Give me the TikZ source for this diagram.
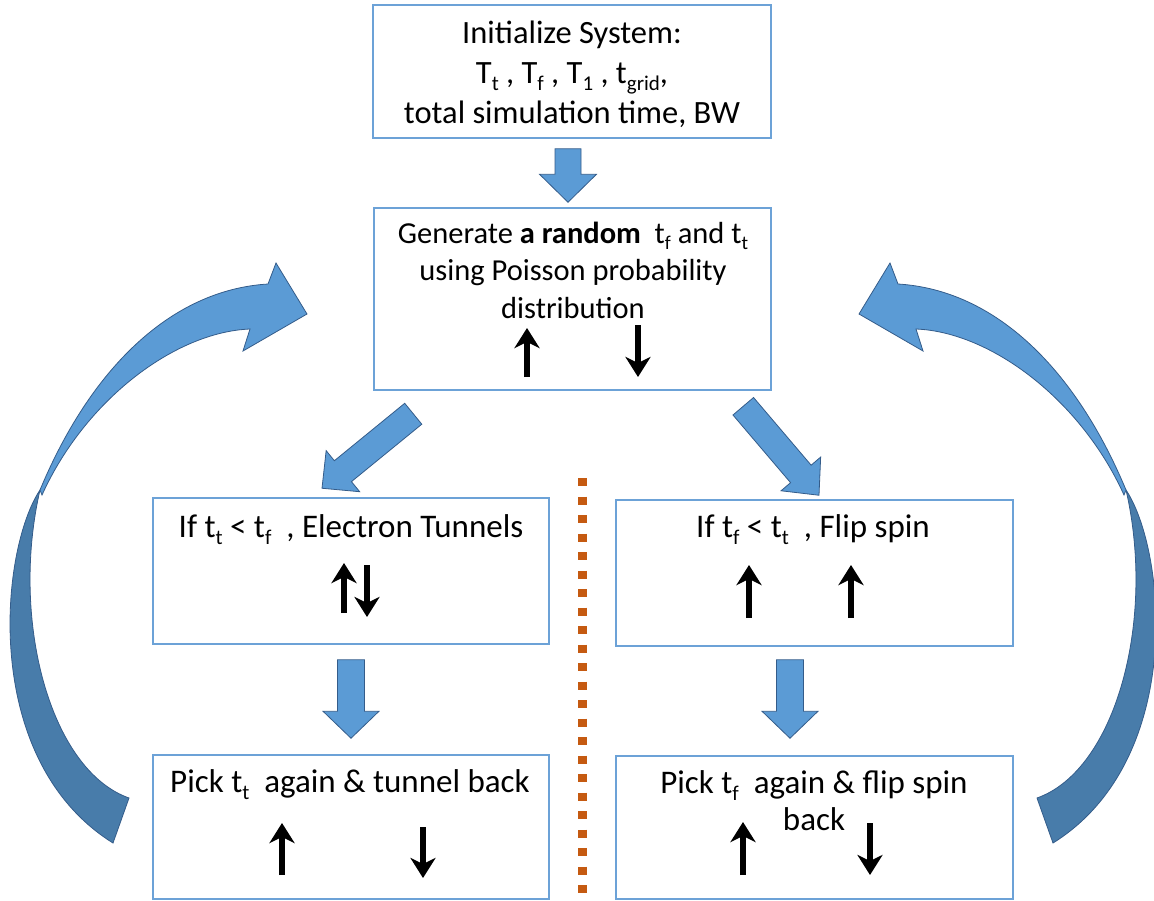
\documentclass[tikz,border=0pt]{standalone}
\usepackage{fontspec}
\setmainfont{Carlito}
\usetikzlibrary{calc,arrows.meta}
\definecolor{boxline}{RGB}{108,162,215}
\definecolor{arrfill}{RGB}{91,155,213}
\definecolor{arrdark}{RGB}{72,124,170}
\definecolor{arredge}{RGB}{52,92,138}
\definecolor{dotorange}{RGB}{197,90,17}
\newcommand\subtx[1]{\raisebox{-0.22em}{\fontsize{21}{21}\selectfont #1}}
\newcommand\subty[1]{\raisebox{-0.22em}{\fontsize{19.5}{19.5}\selectfont #1}}
\newcommand\blockarrow[5]{%
  \coordinate (bahead) at ($(#2)!#5!(#1)$);
  \filldraw[blockstyle] ($(#1)!#3!90:(#2)$) -- ($(bahead)!#3!90:(#2)$)
    -- ($(bahead)!#4!90:(#2)$) -- (#2) -- ($(bahead)!#4!-90:(#2)$)
    -- ($(bahead)!#3!-90:(#2)$) -- ($(#1)!#3!-90:(#2)$) -- cycle;}
\newcommand\curvedloop{%
  \filldraw[curvdark] (40,490) .. controls (0,550) and (-20,760) .. (113,843)
    -- (129,798) .. controls (50,770) and (10,620) .. (40,490) -- cycle;
  \filldraw[curvlight] (40,490) .. controls (90,370) and (170,290) .. (268,284)
    -- (276,263) -- (307,314) -- (243,351) -- (250,329)
    .. controls (175,332) and (85,400) .. (42,495) -- cycle;}
\tikzset{
  box/.style={draw=boxline, line width=1.5pt, rectangle, inner sep=0pt},
  txt/.style={align=center, inner sep=0pt, anchor=base, font=\fontsize{33}{40}\selectfont},
  blockstyle/.style={fill=arrfill, draw=arredge, line width=0.8pt, line join=miter},
  curvdark/.style={fill=arrdark, draw=arredge, line width=0.8pt},
  curvlight/.style={fill=arrfill, draw=arredge, line width=0.8pt, line join=miter},
  spinarr/.style={line width=6pt, -{Stealth[length=20pt,width=25pt,inset=6pt]}},
  sep/.style={draw=dotorange, line width=9pt, dash pattern=on 8pt off 10.5pt}
}
\begin{document}
\begin{tikzpicture}[x=1pt,y=-1pt]
\useasboundingbox (0,0) rectangle (1154,900);
% boxes
\node[box, minimum width=398pt, minimum height=133pt] (top) at (572,71.5) {};
\node[box, minimum width=397pt, minimum height=182pt] (mid) at (572.5,299) {};
\node[box, minimum width=396pt, minimum height=146pt] (lm) at (351,571) {};
\node[box, minimum width=397pt, minimum height=146pt] (rm) at (814.5,573) {};
\node[box, minimum width=396pt, minimum height=144pt] (bl) at (351,827) {};
\node[box, minimum width=397pt, minimum height=143pt] (br) at (814.5,827.5) {};
% texts (anchor=base is the baseline of the last line)
\node[txt, font=\fontsize{32.5}{40}\selectfont] (toptxt) at (572,123) {Initialize System:\\ T\subtx{t} , T\subtx{f} , T\subtx{1} , t\subtx{grid},\\ total simulation time, BW};
\node[txt, font=\fontsize{30.5}{37.5}\selectfont] (midtxt) at (573,318) {Generate \textbf{a random} \ t\subty{f} and t\subty{t}\\ using Poisson probability\\ distribution};
\node[txt] (lmtxt) at (351,537) {If t\subtx{t} < t\subtx{f} \ , Electron Tunnels};
\node[txt] (rmtxt) at (813,537) {If t\subtx{f} < t\subtx{t} \ , Flip spin};
\node[txt] (bltxt) at (350,792) {Pick t\subtx{t} \ again \& tunnel back};
\node[txt, font=\fontsize{33}{37}\selectfont] (brtxt) at (814,830) {Pick t\subtx{f} \ again \& flip spin\\ back};
% spin arrows
\draw[spinarr] (527,377) -- (527,328);
\draw[spinarr] (638,325) -- (638,377);
\draw[spinarr] (344,613) -- (344,563);
\draw[spinarr] (367,565) -- (367,617);
\draw[spinarr] (749,618) -- (749,565);
\draw[spinarr] (851,618) -- (851,565);
\draw[spinarr] (282,875) -- (282,823);
\draw[spinarr] (423,827) -- (423,878);
\draw[spinarr] (743,875) -- (743,822);
\draw[spinarr] (870,823) -- (870,875);
% block arrows
\coordinate (a1s) at ($(top.south)+(-4,10)$);
\coordinate (a1e) at ($(mid.north)+(-4.5,-5)$);
\coordinate (a2s) at ($(mid.south west)+(40,23)$);
\coordinate (a2e) at ($(lm.north)+(-29,-9)$);
\coordinate (a3s) at ($(mid.south east)+(-28.5,15.5)$);
\coordinate (a3e) at ($(rm.north)+(4.5,-4)$);
\coordinate (a4s) at ($(lm.south)+(0,15)$);
\coordinate (a4e) at ($(bl.north)+(0,-16)$);
\coordinate (a5s) at ($(rm.south)+(-24.5,13)$);
\coordinate (a5e) at ($(br.north)+(-24.5,-17)$);
\blockarrow{a1s}{a1e}{13pt}{28.5pt}{28pt}
\blockarrow{a2s}{a2e}{13.5pt}{26.5pt}{27pt}
\blockarrow{a3s}{a3e}{13.5pt}{26pt}{28pt}
\blockarrow{a4s}{a4e}{13.5pt}{28pt}{27pt}
\blockarrow{a5s}{a5e}{13.5pt}{28pt}{27pt}
% curved loop arrows
\curvedloop
\begin{scope}[shift={(1166,0)}, xscale=-1]
\curvedloop
\end{scope}
% separator
\coordinate (septop) at (582,478);
\coordinate (sepbot) at (582,900);
\draw[sep] (septop) -- (sepbot);
\end{tikzpicture}
\end{document}
